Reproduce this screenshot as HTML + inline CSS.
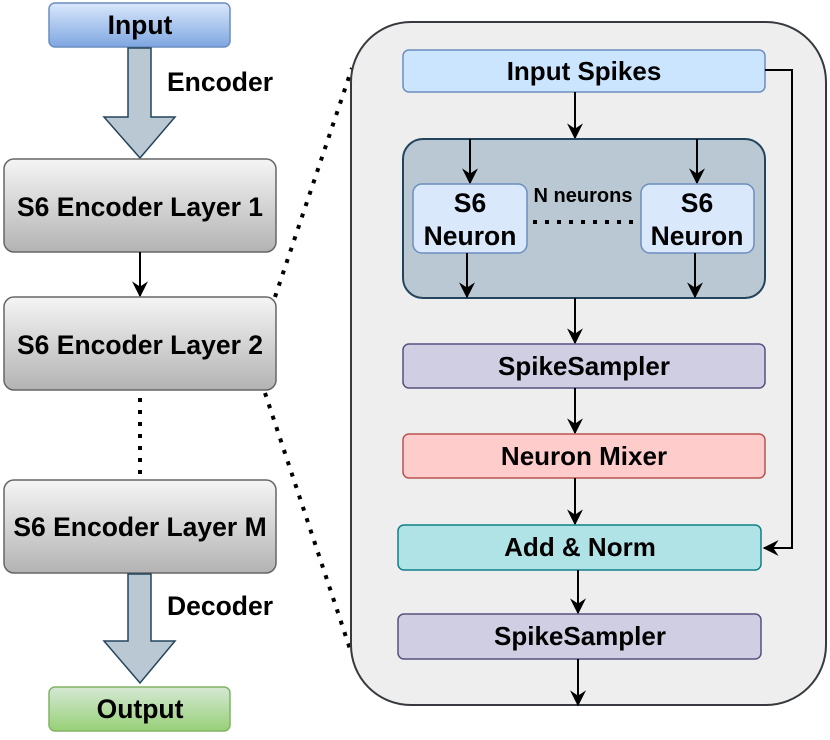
<!DOCTYPE html>
<html><head><meta charset="utf-8"><style>
html,body{margin:0;padding:0;background:#fff;}
svg text{font-family:"Liberation Sans",Arial,sans-serif;font-weight:bold;fill:#000;}
</style></head><body>
<svg width="830" height="735" viewBox="0 0 830 735" xmlns="http://www.w3.org/2000/svg">
<defs>
<linearGradient id="gb" x1="0" y1="0" x2="0" y2="1"><stop offset="0" stop-color="#dae8fc"/><stop offset="1" stop-color="#7ea6e0"/></linearGradient>
<linearGradient id="gg" x1="0" y1="0" x2="0" y2="1"><stop offset="0" stop-color="#f5f5f5"/><stop offset="1" stop-color="#b3b3b3"/></linearGradient>
<linearGradient id="gn" x1="0" y1="0" x2="0" y2="1"><stop offset="0" stop-color="#d5e8d4"/><stop offset="1" stop-color="#97d077"/></linearGradient>
<marker id="a2" viewBox="0 0 12 12" refX="11" refY="6" markerWidth="16" markerHeight="16" orient="auto" markerUnits="userSpaceOnUse"><path d="M0,0 L12,6 L0,12 L4,6 Z" fill="#000"/></marker>
</defs>
<rect x="49" y="3" width="181" height="44" rx="6" fill="url(#gb)" stroke="#6c8ebf" stroke-width="1.5"/>
<text x="140" y="34" font-size="26.5" text-anchor="middle">Input</text>
<path d="M128,48 H151 V117 H175 L140,158 L104,117 H128 Z" fill="#bac8d3" stroke="#23445d" stroke-width="1.5"/>
<text x="167" y="91" font-size="26.5">Encoder</text>
<rect x="4" y="159" width="272" height="93" rx="10" fill="url(#gg)" stroke="#666" stroke-width="1.5"/>
<text x="140" y="216" font-size="26.5" text-anchor="middle">S6 Encoder Layer 1</text>
<line x1="140" y1="252" x2="140" y2="296" stroke="#000" stroke-width="2" marker-end="url(#a2)"/>
<rect x="4" y="297" width="272" height="93" rx="10" fill="url(#gg)" stroke="#666" stroke-width="1.5"/>
<text x="140" y="354" font-size="26.5" text-anchor="middle">S6 Encoder Layer 2</text>
<line x1="140" y1="398" x2="140" y2="476" stroke="#000" stroke-width="4" stroke-dasharray="4,8"/>
<rect x="4" y="480" width="272" height="93" rx="10" fill="url(#gg)" stroke="#666" stroke-width="1.5"/>
<text x="140" y="536" font-size="26.5" text-anchor="middle">S6 Encoder Layer M</text>
<path d="M128,574 H151 V641 H175 L140,683 L104,641 H128 Z" fill="#bac8d3" stroke="#23445d" stroke-width="1.5"/>
<text x="167" y="615" font-size="26.5">Decoder</text>
<rect x="49" y="687" width="181" height="44" rx="6" fill="url(#gn)" stroke="#82b366" stroke-width="1.5"/>
<text x="140" y="718" font-size="26.5" text-anchor="middle">Output</text>
<line x1="275" y1="297" x2="352" y2="68" stroke="#000" stroke-width="4" stroke-dasharray="4,8"/>
<line x1="265" y1="393" x2="352" y2="655" stroke="#000" stroke-width="4" stroke-dasharray="4,8"/>
<rect x="351" y="22" width="475" height="683" rx="60" fill="#eeeeee" stroke="#36393d" stroke-width="2"/>
<rect x="403" y="50" width="362" height="42" rx="6" fill="#cce5ff" stroke="#6c8ebf" stroke-width="1.5"/>
<text x="584" y="80" font-size="26" text-anchor="middle">Input Spikes</text>
<polyline points="765,70 792,70 792,548 764,548" fill="none" stroke="#000" stroke-width="2" marker-end="url(#a2)"/>
<line x1="575" y1="92" x2="575" y2="138" stroke="#000" stroke-width="2" marker-end="url(#a2)"/>
<rect x="403" y="139" width="362" height="159" rx="20" fill="#bac8d3" stroke="#23445d" stroke-width="2"/>
<line x1="470" y1="139" x2="470" y2="183" stroke="#000" stroke-width="2" marker-end="url(#a2)"/>
<line x1="697" y1="139" x2="697" y2="183" stroke="#000" stroke-width="2" marker-end="url(#a2)"/>
<rect x="413" y="184" width="114" height="69" rx="9" fill="#dae8fc" stroke="#6c8ebf" stroke-width="1.5"/>
<rect x="641" y="184" width="113" height="69" rx="9" fill="#dae8fc" stroke="#6c8ebf" stroke-width="1.5"/>
<text x="470" y="212" font-size="26.5" text-anchor="middle">S6</text>
<text x="470" y="245" font-size="26.5" text-anchor="middle">Neuron</text>
<text x="697" y="212" font-size="26.5" text-anchor="middle">S6</text>
<text x="697" y="245" font-size="26.5" text-anchor="middle">Neuron</text>
<text x="583" y="202" font-size="20" text-anchor="middle">N neurons</text>
<line x1="533" y1="222" x2="640" y2="222" stroke="#000" stroke-width="4" stroke-dasharray="4,8"/>
<line x1="467" y1="253" x2="467" y2="297" stroke="#000" stroke-width="2" marker-end="url(#a2)"/>
<line x1="695" y1="253" x2="695" y2="297" stroke="#000" stroke-width="2" marker-end="url(#a2)"/>
<line x1="575" y1="298" x2="575" y2="343" stroke="#000" stroke-width="2" marker-end="url(#a2)"/>
<rect x="403" y="344" width="362" height="44" rx="6" fill="#d0cee2" stroke="#56517e" stroke-width="1.5"/>
<text x="584" y="375" font-size="26" text-anchor="middle">SpikeSampler</text>
<line x1="575" y1="388" x2="575" y2="433" stroke="#000" stroke-width="2" marker-end="url(#a2)"/>
<rect x="403" y="434" width="362" height="44" rx="6" fill="#ffcccc" stroke="#b85450" stroke-width="1.5"/>
<text x="584" y="465" font-size="26" text-anchor="middle">Neuron Mixer</text>
<line x1="575" y1="478" x2="575" y2="524" stroke="#000" stroke-width="2" marker-end="url(#a2)"/>
<rect x="398" y="525" width="363" height="45" rx="6" fill="#b0e3e6" stroke="#0e8088" stroke-width="1.5"/>
<text x="580" y="556" font-size="26" text-anchor="middle">Add &amp; Norm</text>
<line x1="578" y1="570" x2="578" y2="613" stroke="#000" stroke-width="2" marker-end="url(#a2)"/>
<rect x="398" y="614" width="363" height="45" rx="6" fill="#d0cee2" stroke="#56517e" stroke-width="1.5"/>
<text x="580" y="645" font-size="26" text-anchor="middle">SpikeSampler</text>
<line x1="578" y1="659" x2="578" y2="705" stroke="#000" stroke-width="2" marker-end="url(#a2)"/>
</svg>
</body></html>
